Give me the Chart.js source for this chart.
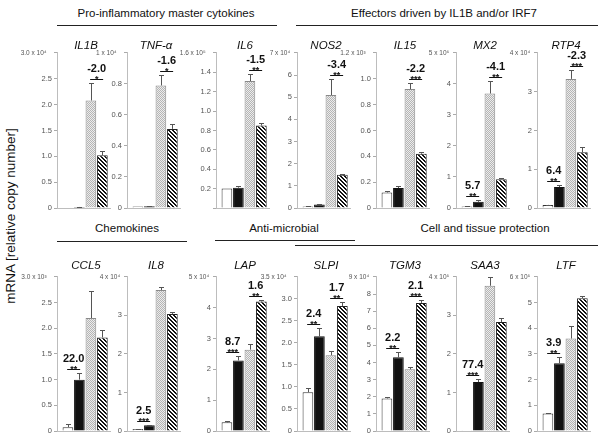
<!DOCTYPE html>
<html>
<head>
<meta charset="utf-8">
<script src="https://cdn.jsdelivr.net/npm/chart.js@4.4.0/dist/chart.umd.min.js"></script>
<style>
  body { margin: 0; background: #fff; width: 600px; height: 439px; position: relative; overflow: hidden;
         font-family: "Liberation Sans", Arial, sans-serif; color: #111; }
  .lbl { position: absolute; white-space: nowrap; transform: translate(-50%, -50%); }
  .grp { font-size: 11.5px; }
  .gene { font-size: 11.5px; font-style: italic; }
  .rule { position: absolute; height: 1.4px; background: #222; }
  .ytitle { position: absolute; left: 10px; top: 216px; font-size: 13.5px; white-space: nowrap;
            transform: translate(-50%, -50%) rotate(-90deg); }
  canvas { position: absolute; }
</style>
</head>
<body>
<div class="ytitle">mRNA [relative copy number]</div>
<script>
// 14 small bar panels, 4 conditions each. Values are in units of each panel's axis multiplier.
const genes = ["IL1B", "TNF-\u03b1", "IL6", "NOS2", "IL15", "MX2", "RTP4",
               "CCL5", "IL8", "LAP", "SLPI", "TGM3", "SAA3", "LTF"];
const conditions = ["Condition 1", "Condition 2", "Condition 3", "Condition 4"];

const axisMax  = [3.0, 1, 1.6, 7, 1.2, 5, 4,   3.0, 4, 5, 3.5, 9, 4, 6];
const axisStep = [0.5, 0.2, 0.2, 1, 0.2, 1, 1, 0.5, 1, 1, 0.5, 1, 1, 1];
const topTickLabels = ["3.0 x 10\u2074", "1 x 10\u2074", "1.6 x 10\u2075", "7 x 10\u2074", "1.2 x 10\u00b3", "5 x 10\u2076", "4 x 10\u2074",
                       "3.0 x 10\u00b3", "4 x 10\u2074", "5 x 10\u2074", "3.5 x 10\u2074", "9 x 10\u2074", "4 x 10\u2075", "6 x 10\u2075"];
const hideZeroTick = [false, false, true, false, false, false, false, false, false, false, false, false, false, false];

// means per condition (one value per gene)
const mean1 = [0.01, 0.01, 0.20, 0.07, 0.12, 0.05, 0.08,  0.075, 0.05, 0.28, 0.88, 1.90, 0.02, 0.68];
const mean2 = [0.02, 0.012, 0.21, 0.16, 0.155, 0.20, 0.54, 1.00, 0.15, 2.29, 2.15, 4.30, 1.27, 2.64];
const mean3 = [2.08, 0.79, 1.31, 5.10, 0.92, 3.69, 3.33,  2.20, 3.66, 2.64, 1.72, 3.60, 3.77, 3.60];
const mean4 = [1.02, 0.51, 0.85, 1.50, 0.42, 0.93, 1.44,  1.82, 3.04, 4.20, 2.84, 7.48, 2.83, 5.17];
// upper error (same units)
const err1 = [0, 0, 0, 0.01, 0.01, 0.01, 0.01,        0.055, 0.01, 0.05, 0.09, 0.06, 0, 0.04];
const err2 = [0.005, 0.003, 0.015, 0.01, 0.012, 0.05, 0.05, 0.12, 0.01, 0.14, 0.18, 0.30, 0.08, 0.26];
const err3 = [0.34, 0.07, 0.07, 0.74, 0.05, 0.41, 0.23, 0.52, 0.07, 0.18, 0.09, 0.15, 0.23, 0.50];
const err4 = [0.08, 0.03, 0.03, 0.05, 0.01, 0.05, 0.13, 0.14, 0.04, 0.05, 0.09, 0.17, 0.10, 0.08];

// significance marks: [first bar of pair, fold change, stars]
const sigMarksByGene = [
  [[2, "-2.0", "*"]], [[2, "-1.6", "*"]], [[2, "-1.5", "**"]], [[2, "-3.4", "**"]], [[2, "-2.2", "***"]],
  [[0, "5.7", "**"], [2, "-4.1", "**"]], [[0, "6.4", "**"], [2, "-2.3", "***"]],
  [[0, "22.0", "**"]], [[0, "2.5", "***"]], [[0, "8.7", "***"], [2, "1.6", "**"]],
  [[0, "2.4", "**"], [2, "1.7", "**"]], [[0, "2.2", "**"], [2, "2.1", "***"]],
  [[0, "77.4", "***"]], [[0, "3.9", "**"]]
];

const groupTitles = ["Pro-inflammatory master cytokines", "Effectors driven by IL1B and/or IRF7",
                     "Chemokines", "Anti-microbial", "Cell and tissue protection"];

// layout
const panelAxisX = [57, 127, 216, 297, 376, 456, 537];
const rowTop = [53, 277], rowBottom = [208, 431];
const geneTitleY = [45, 265];
const plotWidth = 54;
const FONT = '"Liberation Sans", Arial, sans-serif';
const groupLayout = [ // [centerX, centerY, lineX1, lineX2, lineY]
  [166, 13, 57, 277, 25], [444, 13, 296, 598, 25],
  [127, 228, 57, 187, 241], [284, 228, 215, 355, 240], [485, 228, 295, 598, 245]
];

groupTitles.forEach((t, i) => {
  const [cx, cy, x1, x2, ly] = groupLayout[i];
  const d = document.createElement("div");
  d.className = "lbl grp"; d.textContent = t;
  d.style.left = cx + "px"; d.style.top = cy + "px";
  document.body.appendChild(d);
  const r = document.createElement("div");
  r.className = "rule";
  r.style.left = x1 + "px"; r.style.width = (x2 - x1) + "px"; r.style.top = ly + "px";
  document.body.appendChild(r);
});

function makePattern(kind) {
  const c = document.createElement("canvas");
  c.width = 4; c.height = 4;
  const g = c.getContext("2d");
  for (let y = 0; y < 4; y++) for (let x = 0; x < 4; x++) {
    if (kind === "dots") g.fillStyle = (x + y) % 2 === 0 ? "#b5b5b5" : "#ececec";
    else g.fillStyle = (((x - y) % 4) + 4) % 4 < 2 ? "#111" : "#fff";
    g.fillRect(x, y, 1, 1);
  }
  return g.createPattern(c, "repeat");
}
const dotFill = makePattern("dots");
const hatchFill = makePattern("hatch");

const errorBars = {
  id: "errorBars",
  afterDatasetsDraw(chart) {
    const ds = chart.data.datasets[0], meta = chart.getDatasetMeta(0), y = chart.scales.y, ctx = chart.ctx;
    ctx.save();
    ctx.strokeStyle = "#555"; ctx.lineWidth = 1;
    meta.data.forEach((bar, i) => {
      const e = ds.errors[i];
      if (!e) return;
      const x = Math.round(bar.x) + 0.5;
      const y0 = y.getPixelForValue(ds.data[i].y);
      const y1 = Math.round(y.getPixelForValue(ds.data[i].y + e)) + 0.5;
      ctx.beginPath();
      ctx.moveTo(x, y0); ctx.lineTo(x, y1);
      ctx.moveTo(x - 2.5, y1); ctx.lineTo(x + 2.5, y1);
      ctx.stroke();
    });
    ctx.restore();
  }
};

const sigMarks = {
  id: "sigMarks",
  afterDatasetsDraw(chart, args, opts) {
    const ds = chart.data.datasets[0], meta = chart.getDatasetMeta(0), y = chart.scales.y, ctx = chart.ctx;
    (opts.marks || []).forEach(([i, fold, stars]) => {
      const top = Math.min(y.getPixelForValue(ds.data[i].y + ds.errors[i]),
                           y.getPixelForValue(ds.data[i + 1].y + ds.errors[i + 1]));
      const cx = (meta.data[i].x + meta.data[i + 1].x) / 2;
      const ly = Math.round(top - 4) + 0.5;
      ctx.save();
      ctx.strokeStyle = "#111"; ctx.lineWidth = 1;
      ctx.beginPath(); ctx.moveTo(cx - 6.5, ly); ctx.lineTo(cx + 6.5, ly); ctx.stroke();
      ctx.fillStyle = "#111"; ctx.textAlign = "center"; ctx.textBaseline = "alphabetic";
      ctx.font = "bold 9px " + FONT;
      ctx.fillText(stars, cx, ly + 2.5);
      ctx.font = "bold 11px " + FONT;
      ctx.fillText(fold, cx, ly - 8);
      ctx.restore();
    });
  }
};

function makeConfig(p) {
  const means = [mean1[p], mean2[p], mean3[p], mean4[p]];
  const max = axisMax[p];
  const dec = axisStep[p] < 1 ? 1 : 0;
  const isTop = v => Math.abs(v - max) < 1e-6;
  return {
    type: "bar",
    data: {
      datasets: [{
        label: genes[p],
        data: means.map((v, i) => ({ x: i, y: v })),
        errors: [err1[p], err2[p], err3[p], err4[p]],
        backgroundColor: ["#fff", "#111", dotFill, hatchFill],
        borderColor: ["#333", "#111", "#8a8a8a", "#222"],
        borderWidth: 1,
        categoryPercentage: 1,
        barPercentage: 0.93
      }]
    },
    options: {
      responsive: false,
      maintainAspectRatio: false,
      animation: false,
      events: [],
      layout: { padding: 0 },
      plugins: { legend: { display: false }, tooltip: { enabled: false }, sigMarks: { marks: sigMarksByGene[p] } },
      scales: {
        x: {
          type: "linear", min: -0.95, max: 3.75, offset: false,
          ticks: { display: false },
          grid: { display: false },
          border: { color: "#bdbdbd", width: 1 }
        },
        y: {
          min: 0, max: max,
          afterFit: s => { s.width = 46; },
          ticks: {
            stepSize: axisStep[p],
            padding: 2,
            color: "#555",
            font: c => ({ family: FONT, size: c.tick && isTop(c.tick.value) ? 6.5 : 7.5 }),
            callback: v => {
              if (isTop(v)) return topTickLabels[p] + (dec ? "   " : " ");
              if (v === 0) return hideZeroTick[p] ? "" : "0";
              return v.toFixed(dec);
            }
          },
          grid: { drawOnChartArea: false, tickLength: 3, color: "#aaa" },
          border: { color: "#bdbdbd", width: 1 }
        }
      }
    },
    plugins: [errorBars, sigMarks]
  };
}

function buildPanel(p) {
  const row = p < 7 ? 0 : 1, col = p % 7;
  const canvas = document.createElement("canvas");
  document.body.appendChild(canvas);
  canvas.width = 110; canvas.height = 180;
  let chart = new Chart(canvas, makeConfig(p));
  let a = chart.chartArea;
  const w = Math.round(110 - (a.right - a.left) + plotWidth);
  const h = Math.round(180 - (a.bottom - a.top) + (rowBottom[row] - rowTop[row]));
  chart.destroy();
  canvas.width = w; canvas.height = h;
  chart = new Chart(canvas, makeConfig(p));
  a = chart.chartArea;
  canvas.style.left = (panelAxisX[col] - a.left) + "px";
  canvas.style.top = (rowTop[row] - a.top) + "px";

  const t = document.createElement("div");
  t.className = "lbl gene"; t.textContent = genes[p];
  t.style.left = (panelAxisX[col] + 29) + "px"; t.style.top = geneTitleY[row] + "px";
  document.body.appendChild(t);
}

genes.forEach((g, p) => buildPanel(p));
</script>
</body>
</html>
